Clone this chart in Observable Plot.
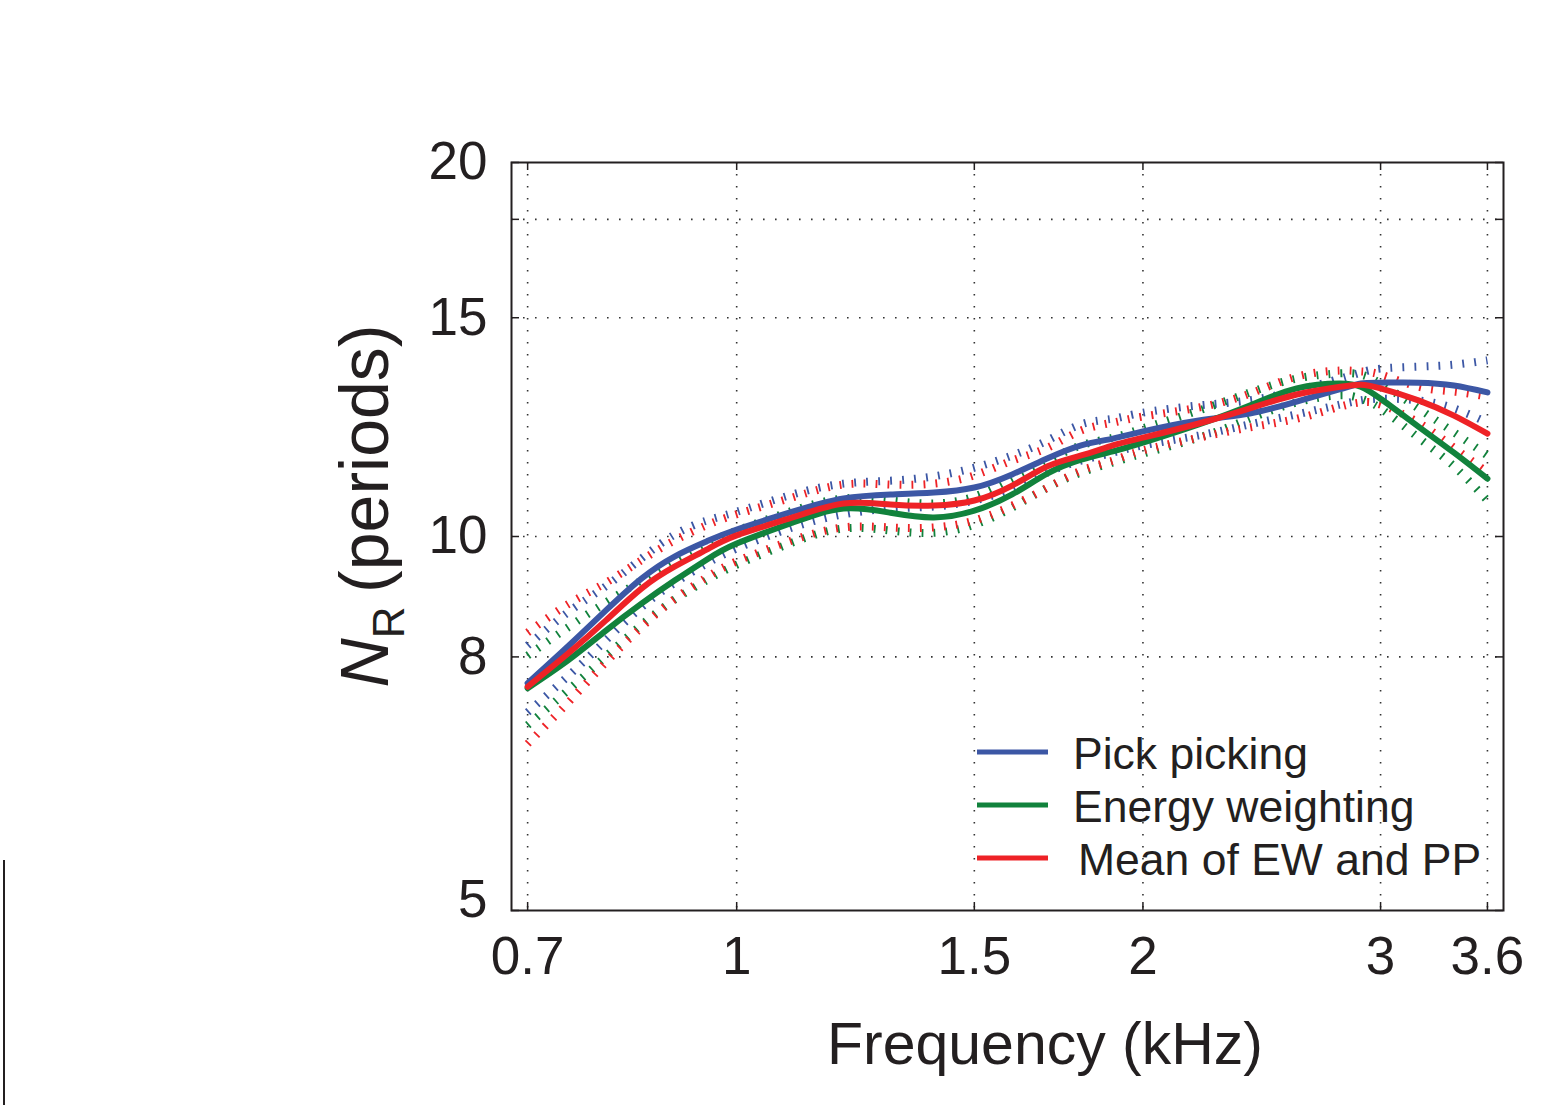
<!DOCTYPE html>
<html><head><meta charset="utf-8">
<script src="https://cdn.jsdelivr.net/npm/d3@7"></script>
<script src="https://cdn.jsdelivr.net/npm/@observablehq/plot@0.6"></script>
<style>
html,body{margin:0;padding:0;background:#fff;}
#chart{position:relative;width:1546px;height:1105px;}
#artifact{position:absolute;left:3px;top:860px;width:2px;height:245px;background:#231f20;}
</style></head><body>
<div id="chart"><div id="artifact"></div></div>
<script>
// Frequency (kHz)
const freq = [0.7, 0.75, 0.8, 0.85, 0.9, 0.95, 1.0, 1.1, 1.2, 1.3, 1.4, 1.5, 1.6, 1.7, 1.8, 1.9, 2.0, 2.2, 2.4, 2.6, 2.8, 2.9, 3.0, 3.2, 3.4, 3.6];

// Pick picking (PP)
const ppMean  = [7.62, 8.16, 8.72, 9.25, 9.64, 9.91, 10.13, 10.47, 10.73, 10.81, 10.85, 10.95, 11.22, 11.56, 11.84, 11.99, 12.15, 12.40, 12.56, 12.84, 13.14, 13.28, 13.30, 13.30, 13.23, 13.06];
const ppUpper = [8.17, 8.69, 9.12, 9.60, 10.04, 10.30, 10.47, 10.81, 11.03, 11.09, 11.18, 11.36, 11.62, 11.95, 12.31, 12.44, 12.58, 12.75, 12.87, 13.11, 13.40, 13.55, 13.65, 13.70, 13.75, 13.86];
const ppLower = [7.22, 7.72, 8.25, 8.77, 9.18, 9.51, 9.78, 10.17, 10.42, 10.53, 10.57, 10.69, 10.93, 11.26, 11.51, 11.68, 11.84, 12.06, 12.31, 12.54, 12.77, 12.87, 12.91, 12.87, 12.68, 12.35];

// Energy weighting (EW)
const ewMean  = [7.55, 7.95, 8.40, 8.83, 9.22, 9.58, 9.87, 10.26, 10.53, 10.45, 10.36, 10.49, 10.81, 11.24, 11.53, 11.71, 11.90, 12.31, 12.75, 13.16, 13.28, 13.20, 12.91, 12.26, 11.68, 11.13];
const ewUpper = [8.02, 8.45, 8.85, 9.22, 9.57, 9.87, 10.11, 10.49, 10.73, 10.69, 10.63, 10.77, 11.13, 11.51, 11.84, 12.01, 12.22, 12.63, 13.06, 13.40, 13.53, 13.50, 13.28, 12.68, 12.13, 11.62];
const ewLower = [7.05, 7.52, 8.01, 8.49, 8.90, 9.22, 9.49, 9.89, 10.15, 10.11, 10.07, 10.22, 10.55, 10.95, 11.26, 11.47, 11.66, 12.01, 12.44, 12.82, 12.99, 12.91, 12.68, 12.01, 11.39, 10.69];

// Mean of EW and PP
const mnMean  = [7.57, 8.05, 8.56, 9.08, 9.46, 9.76, 10.02, 10.36, 10.63, 10.61, 10.59, 10.69, 10.99, 11.39, 11.62, 11.84, 12.01, 12.33, 12.68, 13.01, 13.20, 13.25, 13.16, 12.87, 12.51, 12.10];
const mnUpper = [8.37, 8.82, 9.18, 9.57, 9.93, 10.21, 10.42, 10.75, 11.01, 11.01, 11.03, 11.20, 11.51, 11.79, 12.17, 12.35, 12.49, 12.70, 13.03, 13.45, 13.60, 13.58, 13.50, 13.20, 13.08, 12.96];
const mnLower = [6.81, 7.35, 7.92, 8.45, 8.91, 9.27, 9.55, 9.93, 10.17, 10.17, 10.17, 10.30, 10.59, 10.95, 11.30, 11.51, 11.73, 12.01, 12.24, 12.44, 12.72, 12.82, 12.77, 12.35, 11.79, 11.26];

// Ticks
const xTicks = [0.7, 1, 1.5, 2, 3, 3.6];
const yTickLabels = [5, 8, 10, 15, 20];
const yTicks = [5, 8, 10, 15, 18, 20];
const yGrid = [8, 10, 15, 18];

const seriesNames = ["Pick picking", "Energy weighting", "Mean of EW and PP"];
const colors = {"Pick picking": "#3c57a5", "Energy weighting": "#11823c", "Mean of EW and PP": "#ee2226"};

const rows = ys => freq.map((f, i) => ({f, v: ys[i]}));
const dotted = (ys, c) => Plot.line(rows(ys), {x: "f", y: "v", stroke: c, strokeWidth: 8, strokeDasharray: "1.8,10.2", strokeLinecap: "butt", curve: "natural"});
const solid = (ys, c) => Plot.line(rows(ys), {x: "f", y: "v", stroke: c, strokeWidth: 6, curve: "natural"});

const cPP = colors["Pick picking"], cEW = colors["Energy weighting"], cMN = colors["Mean of EW and PP"];
const ink = "#231f20";
const innerW = 1503 - 511, innerH = 910 - 162;

const chart = Plot.plot({
  width: 1546, height: 1105,
  marginLeft: 511, marginRight: 43, marginTop: 162, marginBottom: 195,
  style: {fontSize: "53px", fontFamily: "'Liberation Sans', Arial, Helvetica, sans-serif", color: ink, background: "white", overflow: "visible"},
  x: {type: "log", domain: [0.681, 3.70], ticks: xTicks, tickFormat: d => String(d), tickSize: 0, tickPadding: 26, label: null},
  y: {type: "log", domain: [5, 20], ticks: yTickLabels, tickFormat: d => String(d), tickSize: 0, tickPadding: 24, label: null},
  marks: [
    Plot.ruleX(xTicks, {x: d => d, stroke: "#333", strokeWidth: 1.6, strokeDasharray: "1.6,10.4"}),
    Plot.ruleY(yGrid, {y: d => d, stroke: "#333", strokeWidth: 1.6, strokeDasharray: "1.6,10.4"}),
    Plot.tickX(xTicks, {x: d => d, insetTop: innerH - 8, stroke: ink, strokeWidth: 1.5}),
    Plot.tickX(xTicks, {x: d => d, insetBottom: innerH - 8, stroke: ink, strokeWidth: 1.5}),
    Plot.tickY(yTicks, {y: d => d, insetRight: innerW - 8, stroke: ink, strokeWidth: 1.5}),
    Plot.tickY(yTicks, {y: d => d, insetLeft: innerW - 8, stroke: ink, strokeWidth: 1.5}),
    dotted(ppUpper, cPP), dotted(ppLower, cPP),
    dotted(ewUpper, cEW), dotted(ewLower, cEW),
    dotted(mnUpper, cMN), dotted(mnLower, cMN),
    solid(ppMean, cPP),
    solid(ewMean, cEW),
    solid(mnMean, cMN),
    Plot.frame({stroke: ink, strokeWidth: 2})
  ]
});

const svg = d3.select(chart);
const font = "'Liberation Sans', Arial, Helvetica, sans-serif";

// nudge the lowest y tick label up, as in the original
svg.selectAll("text").filter(function() { return this.textContent === "5"; })
  .attr("transform", function() { const t = this.getAttribute("transform") || ""; return t + " translate(0,-10)"; });

// x-axis title
svg.append("text")
  .attr("x", 1045).attr("y", 1064)
  .attr("text-anchor", "middle")
  .attr("font-family", font).attr("font-size", 59).attr("fill", ink)
  .text("Frequency (kHz)");

// y-axis title: N_R (periods)
const yl = svg.append("text")
  .attr("transform", "translate(388,506) rotate(-90)")
  .attr("text-anchor", "middle")
  .attr("font-family", font).attr("font-size", 68).attr("fill", ink);
yl.append("tspan").attr("font-style", "italic").text("N");
yl.append("tspan").attr("font-size", 44).attr("dy", 16).text("R");
yl.append("tspan").attr("dy", -16).text("\u2009(periods)");

// legend
const legY = [752, 805, 858];
const legTextX = [1073, 1073, 1078];
seriesNames.forEach((name, i) => {
  svg.append("line")
    .attr("x1", 977).attr("x2", 1048)
    .attr("y1", legY[i]).attr("y2", legY[i])
    .attr("stroke", colors[name]).attr("stroke-width", 5);
  svg.append("text")
    .attr("x", legTextX[i]).attr("y", legY[i] + 17)
    .attr("text-anchor", "start")
    .attr("font-family", font).attr("font-size", 44.5).attr("fill", ink)
    .text(name);
});

document.getElementById("chart").appendChild(chart);
</script>
</body></html>
